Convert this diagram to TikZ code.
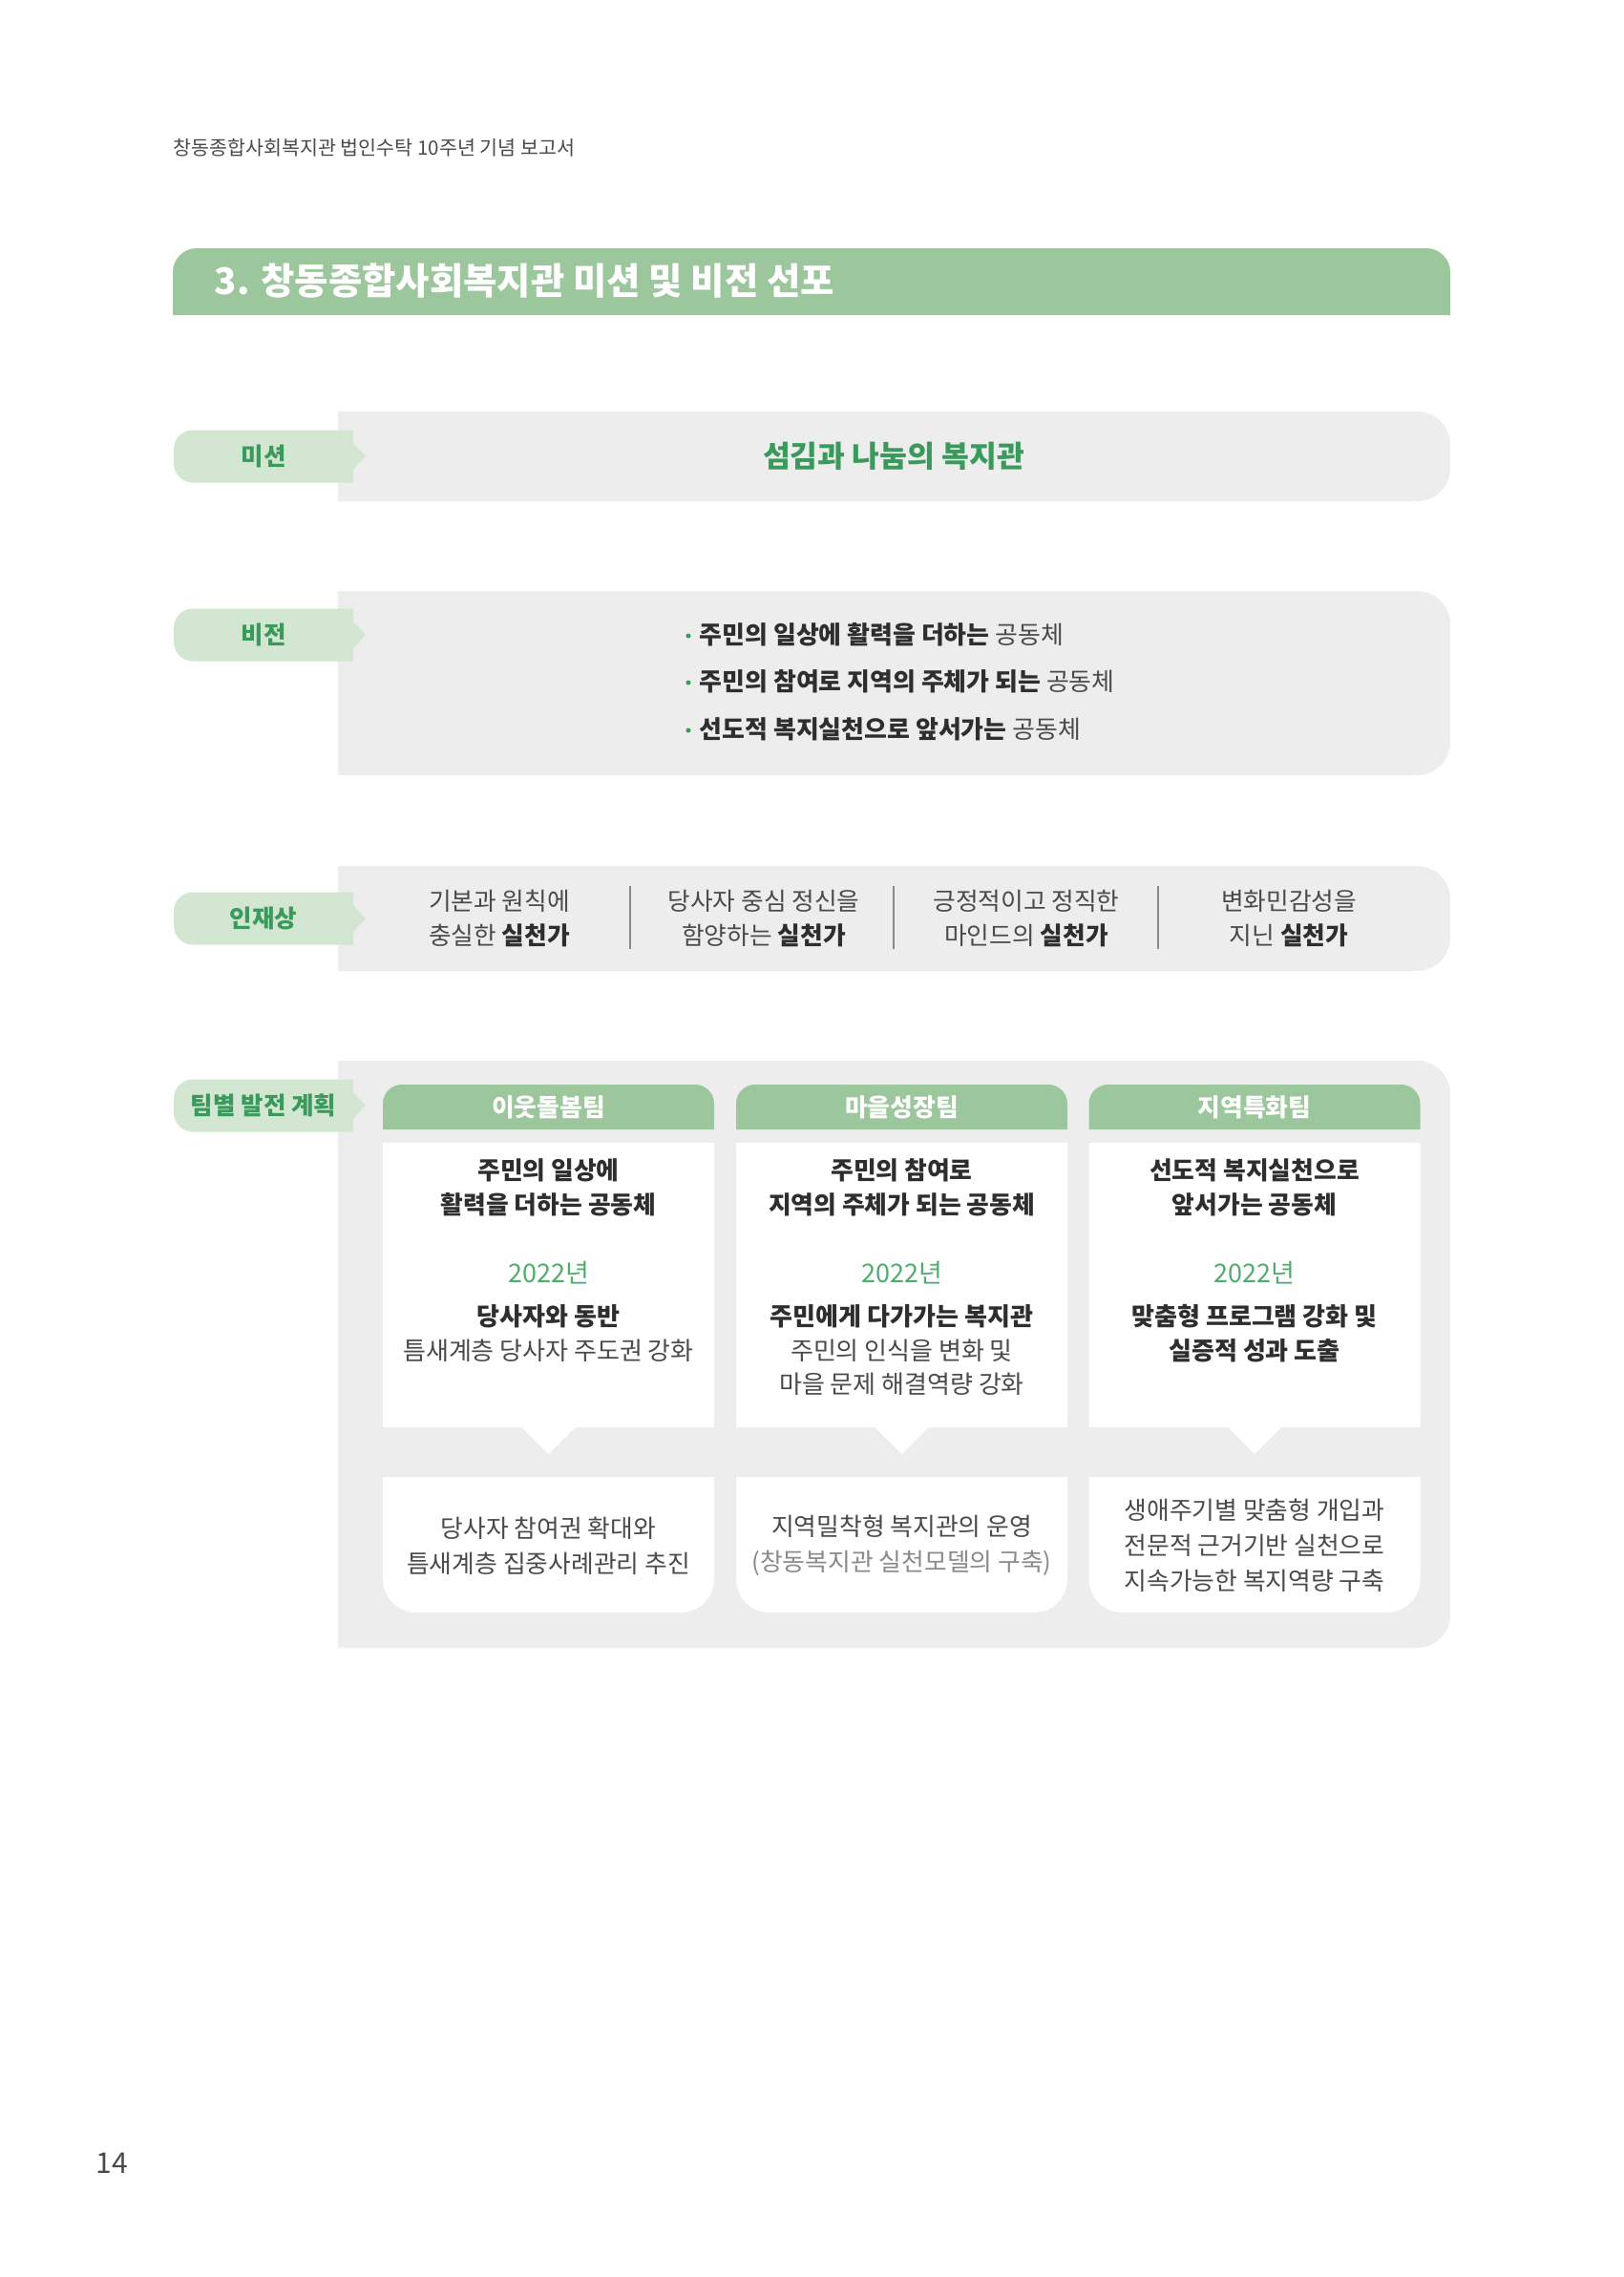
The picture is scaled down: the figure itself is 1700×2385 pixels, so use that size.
\documentclass[tikz,border=0pt]{standalone}
\usepackage{fontspec}
\setmainfont{Noto Sans CJK KR}
\usepackage{xcolor}
\usepackage{tikz}

\definecolor{titlegreen}{HTML}{9CC69B}
\definecolor{tabgreen}{HTML}{D3E6D2}
\definecolor{panelgray}{HTML}{EDEDED}
\definecolor{keygreen}{HTML}{3A9A5B}
\definecolor{yeargreen}{HTML}{4FAE6C}
\definecolor{darktext}{HTML}{2E2E2E}
\definecolor{softtext}{HTML}{4A4A4A}
\definecolor{palegray}{HTML}{8A8A8A}

\begin{document}
\begin{tikzpicture}[
x=0.01cm, y=0.01cm,
every node/.style={
    inner sep=0pt,
    align=center,
    text=darktext
},
tablabel/.style={font=\fontsize{0.255cm}{0.3cm}\selectfont\bfseries, text=keygreen},
visionline/.style={anchor=west, font=\fontsize{0.259cm}{0.3cm}\selectfont, text=softtext},
persona/.style={font=\fontsize{0.257cm}{0.36cm}\selectfont, text=softtext},
teamhead/.style={font=\fontsize{0.258cm}{0.3cm}\selectfont\bfseries, text=white},
goal/.style={font=\fontsize{0.258cm}{0.365cm}\selectfont\bfseries},
year/.style={font=\fontsize{0.27cm}{0.3cm}\selectfont, text=yeargreen},
plan/.style={anchor=north, font=\fontsize{0.26cm}{0.355cm}\selectfont, text=softtext},
result/.style={font=\fontsize{0.258cm}{0.37cm}\selectfont, text=softtext}
]

\fill[white] (0,0) rectangle (1700,-2385);
\useasboundingbox (0,0) rectangle (1700,-2385);

\node[anchor=west, font=\fontsize{0.206cm}{0.25cm}\selectfont, text=softtext] (runhead) at (181,-155) {창동종합사회복지관 법인수탁 10주년 기념 보고서};

\fill[titlegreen] (181,-330) -- (181,-285) arc[start angle=180, end angle=90, radius=25] -- (1494,-260) arc[start angle=90, end angle=0, radius=25] -- (1519,-330) -- cycle;
\node[anchor=west, font=\fontsize{0.384cm}{0.4cm}\selectfont\bfseries, text=white] (title) at (224,-294) {3. 창동종합사회복지관 미션 및 비전 선포};

\foreach \ya/\yb in {431/525, 619/812, 907/1017, 1111/1726} {
    \fill[panelgray] (354,-\yb) -- (354,-\ya) -- (1484,-\ya) arc[start angle=90, end angle=0, radius=35] -- (1519,{-\yb+35}) arc[start angle=0, end angle=-90, radius=35] -- cycle;
}

\foreach \yc/\name/\label in {478/mission/미션, 665/vision/비전, 962/persona/인재상, 1158/team/팀별 발전 계획} {
    \fill[tabgreen] (370,{-\yc+27.5}) -- (202,{-\yc+27.5}) arc[start angle=90, end angle=180, radius=20] -- (182,{-\yc-7.5}) arc[start angle=180, end angle=270, radius=20] -- (370,{-\yc-27.5}) -- (370,{-\yc-14}) -- (383,-\yc) -- (370,{-\yc+14}) -- cycle;
    \node[tablabel] (\name tab) at (276,-\yc) {\label};
}

\node[font=\fontsize{0.313cm}{0.4cm}\selectfont\bfseries, text=keygreen] (missiontext) at (936,-478) {섬김과 나눔의 복지관};

\foreach \yc in {665, 714, 764} {
    \fill[keygreen] (721,{-\yc-1}) circle[radius=2.5];
}
\node[visionline] (vision1) at (732,-665) {{\color{darktext}\bfseries 주민의 일상에 활력을 더하는} 공동체};
\node[visionline] (vision2) at (732,-714) {{\color{darktext}\bfseries 주민의 참여로 지역의 주체가 되는} 공동체};
\node[visionline] (vision3) at (732,-764) {{\color{darktext}\bfseries 선도적 복지실천으로 앞서가는} 공동체};

\node[persona] (persona1) at (523,-962) {기본과 원칙에\\충실한 {\color{darktext}\bfseries 실천가}};
\node[persona] (persona2) at (800,-962) {당사자 중심 정신을\\함양하는 {\color{darktext}\bfseries 실천가}};
\node[persona] (persona3) at (1075,-962) {긍정적이고 정직한\\마인드의 {\color{darktext}\bfseries 실천가}};
\node[persona] (persona4) at (1350,-962) {변화민감성을\\지닌 {\color{darktext}\bfseries 실천가}};
\foreach \x in {660, 936, 1213} {
    \draw[palegray, line width=0.6pt] (\x,-928) -- (\x,-994);
}

\foreach \cx in {574.5, 944.5, 1314} {
    \fill[titlegreen] ({\cx-173.5},-1183) -- ({\cx-173.5},-1156) arc[start angle=180, end angle=90, radius=20] -- ({\cx+153.5},-1136) arc[start angle=90, end angle=0, radius=20] -- ({\cx+173.5},-1183) -- cycle;
    \fill[white] ({\cx-173.5},-1197) -- ({\cx+173.5},-1197) -- ({\cx+173.5},-1495) -- ({\cx+28},-1495) -- (\cx,-1523) -- ({\cx-28},-1495) -- ({\cx-173.5},-1495) -- cycle;
    \fill[white] ({\cx-173.5},-1547) -- ({\cx+173.5},-1547) -- ({\cx+173.5},-1654) arc[start angle=0, end angle=-90, radius=35] -- ({\cx-138.5},-1689) arc[start angle=270, end angle=180, radius=35] -- cycle;
}

\node[teamhead] (head1) at (574.5,-1160) {이웃돌봄팀};
\node[teamhead] (head2) at (944.5,-1160) {마을성장팀};
\node[teamhead] (head3) at (1314,-1160) {지역특화팀};

\node[goal] (goal1) at (574.5,-1244) {주민의 일상에\\활력을 더하는 공동체};
\node[goal] (goal2) at (944.5,-1244) {주민의 참여로\\지역의 주체가 되는 공동체};
\node[goal] (goal3) at (1314,-1244) {선도적 복지실천으로\\앞서가는 공동체};

\node[year] (year1) at (574.5,-1333) {2022년};
\node[year] (year2) at (944.5,-1333) {2022년};
\node[year] (year3) at (1314,-1333) {2022년};

\node[plan] (plan1) at (574.5,-1366) {{\color{darktext}\bfseries 당사자와 동반}\\틈새계층 당사자 주도권 강화};
\node[plan] (plan2) at (944.5,-1366) {{\color{darktext}\bfseries 주민에게 다가가는 복지관}\\주민의 인식을 변화 및\\마을 문제 해결역량 강화};
\node[plan] (plan3) at (1314,-1366) {{\color{darktext}\bfseries 맞춤형 프로그램 강화 및}\\{\color{darktext}\bfseries 실증적 성과 도출}};

\node[result] (result1) at (574.5,-1619) {당사자 참여권 확대와\\틈새계층 집중사례관리 추진};
\node[result] (result2) at (944.5,-1619) {지역밀착형 복지관의 운영\\{\color{palegray}(창동복지관 실천모델의 구축)}};
\node[result] (result3) at (1314,-1619) {생애주기별 맞춤형 개입과\\전문적 근거기반 실천으로\\지속가능한 복지역량 구축};

\node[font=\fontsize{0.3cm}{0.35cm}\selectfont, text=softtext] (pageno) at (117,-2266) {14};

\end{tikzpicture}
\end{document}
